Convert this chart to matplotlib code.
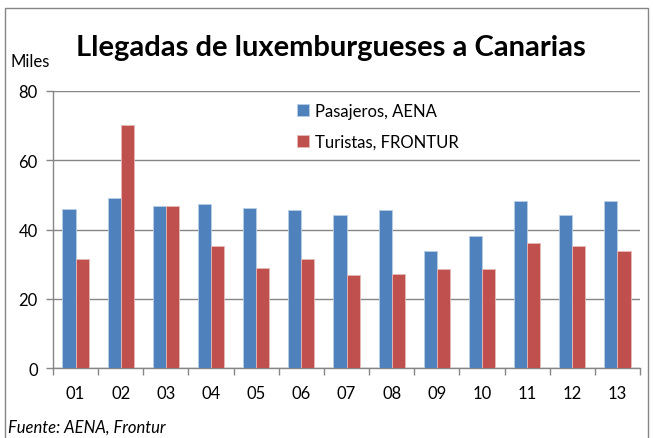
import matplotlib
matplotlib.use("Agg")
import matplotlib.pyplot as plt
import numpy as np
from matplotlib.patches import Rectangle

categories = ["01", "02", "03", "04", "05", "06", "07", "08", "09", "10", "11", "12", "13"]
pasajeros = [45.8, 49.1, 46.9, 47.4, 46.2, 45.6, 44.3, 45.7, 33.9, 38.2, 48.2, 44.3, 48.1]
turistas = [31.5, 70.3, 46.9, 35.2, 28.9, 31.5, 26.8, 27.2, 28.5, 28.5, 36.2, 35.2, 33.9]
yticks = [0, 20, 40, 60, 80]

plt.rcParams['font.family'] = ['Lato', 'DejaVu Sans']

W, H = 653, 439
fig = plt.figure(figsize=(W / 100, H / 100), dpi=100)
ax = fig.add_axes([53 / W, 1 - 369 / H, (640 - 53) / W, (369 - 92) / H])

x = np.arange(len(categories))
bw = 0.29
ax.bar(x - bw / 2, pasajeros, bw, color="#4F81BD", edgecolor="#B9CDE5", linewidth=0.6,
       label="Pasajeros, AENA", zorder=3)
ax.bar(x + bw / 2, turistas, bw, color="#C0504D", edgecolor="#E6B9B8", linewidth=0.6,
       label="Turistas, FRONTUR", zorder=3)

ax.set_xlim(-0.5, len(categories) - 0.5)
ax.set_ylim(0, 80)
ax.set_yticks(yticks)
ax.set_yticklabels([str(v) for v in yticks], fontsize=12)
ax.set_xticks(x)
ax.set_xticklabels(categories, fontsize=12)
ax.tick_params(axis='x', length=0, pad=12)
ax.set_xticks(np.arange(-0.5, len(categories)), minor=True)
ax.tick_params(axis='x', which='minor', length=5, color="#868686", width=1)
ax.tick_params(axis='y', length=5, color="#868686", width=1, pad=6)
ax.grid(axis='y', color="#868686", linewidth=1, zorder=0)
for s in ["top", "right"]:
    ax.spines[s].set_visible(False)
for s in ["left", "bottom"]:
    ax.spines[s].set_color("#868686")
    ax.spines[s].set_linewidth(1)

ax.legend(loc="upper left", bbox_to_anchor=(0.39, 1.012), frameon=False, fontsize=12,
          handlelength=0.7, handleheight=0.7, labelspacing=0.9, handletextpad=0.4)

fig.text(331 / W, 1 - 48 / H, "Llegadas de luxemburgueses a Canarias", ha="center", va="center",
         fontsize=21, fontweight="bold")
fig.text(10 / W, 1 - 62 / H, "Miles", ha="left", va="center", fontsize=12)
fig.text(8 / W, 1 - 428 / H, "Fuente: AENA, Frontur", ha="left", va="center", fontsize=12,
         style="italic")

fig.patches.append(Rectangle((5 / W, -0.1), (648 - 5) / W, 1 - 9 / H + 0.1, transform=fig.transFigure,
                             fill=False, edgecolor="#868686", linewidth=1))

fig.savefig("out.png", dpi=100)
